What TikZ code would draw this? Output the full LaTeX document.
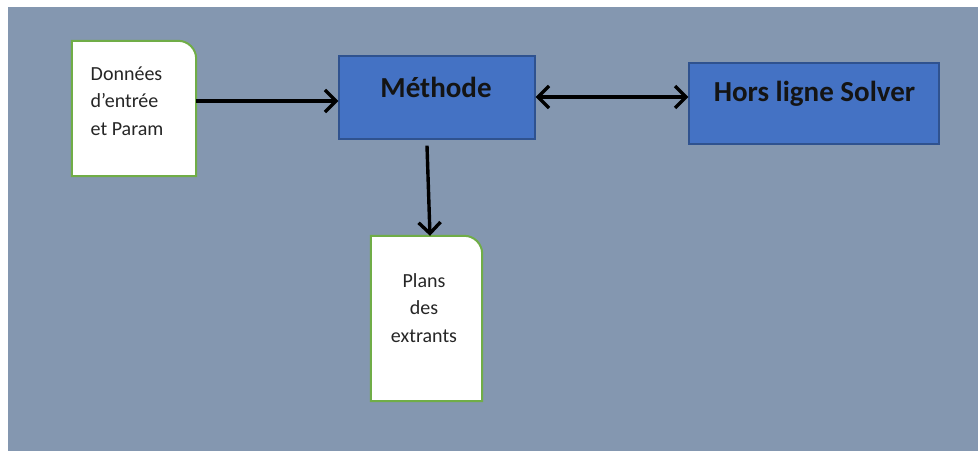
\documentclass[tikz,border=0pt]{standalone}
\usepackage{fontspec}
\setmainfont{Carlito}
\usetikzlibrary{arrows.meta}
\definecolor{bgslate}{RGB}{132,151,176}
\definecolor{boxblue}{RGB}{68,114,196}
\definecolor{boxblueedge}{RGB}{47,82,143}
\definecolor{docgreen}{RGB}{112,173,71}
\begin{document}
\begin{tikzpicture}[x=1pt,y=1pt,
  procbox/.style={draw=boxblueedge, fill=boxblue, line width=1.2pt, inner sep=0pt},
  docbox/.style={inner sep=0pt},
  docedge/.style={draw=docgreen, line width=2pt, fill=white},
  doctext/.style={font=\fontsize{20}{27.5}\selectfont, inner sep=0pt, text=black!85},
  proctext/.style={font=\fontsize{29}{34}\selectfont\bfseries, inner sep=0pt, text=black!92},
  barb/.tip={Straight Barb[length=11pt,width=22pt]},
  flow/.style={line width=3.4pt, -barb},
]
% page and backdrop
\fill[white] (0,0) rectangle (978,451);
\fill[bgslate] (8,0) rectangle (978,444);
\useasboundingbox (0,0) rectangle (978,451);

% process boxes
\node[procbox, minimum width=196pt, minimum height=83pt] (meth) at (437,353.5) {};
\node[procbox, minimum width=250pt, minimum height=81pt] (hors) at (814,347.5) {};
\node[proctext, anchor=base] (methtext) at (436,353) {Méthode};
\node[proctext, anchor=base] (horstext) at (814.5,349) {Hors ligne Solver};

% document boxes (one rounded corner, top right)
\node[docbox, minimum width=124pt, minimum height=135pt] (don) at (134,342.5) {};
\draw[docedge] (don.south west) -- (don.north west) -- ([xshift=-18pt]don.north east)
  arc[start angle=90, end angle=0, radius=18pt] -- (don.south east) -- cycle;
\node[doctext, align=left, anchor=base west] (dontext) at (90.5,316) {Données\\d’entrée\\et Param};

\node[docbox, minimum width=111pt, minimum height=165pt] (plans) at (426.5,132.5) {};
\draw[docedge] (plans.south west) -- (plans.north west) -- ([xshift=-18pt]plans.north east)
  arc[start angle=90, end angle=0, radius=18pt] -- (plans.south east) -- cycle;
\node[doctext, align=center, anchor=base] (planstext) at (424,109) {Plans\\des\\extrants};

% connectors
\coordinate (row1) at (0,350);
\coordinate (row2) at (0,354);
\draw[flow] (don.east |- row1) -- (meth.west |- row1);
\draw[flow, barb-barb] (meth.east |- row2) -- (hors.west |- row2);
\draw[flow] ([xshift=-10pt,yshift=-6pt]meth.south) -- ([xshift=3.5pt]plans.north);
\end{tikzpicture}
\end{document}
